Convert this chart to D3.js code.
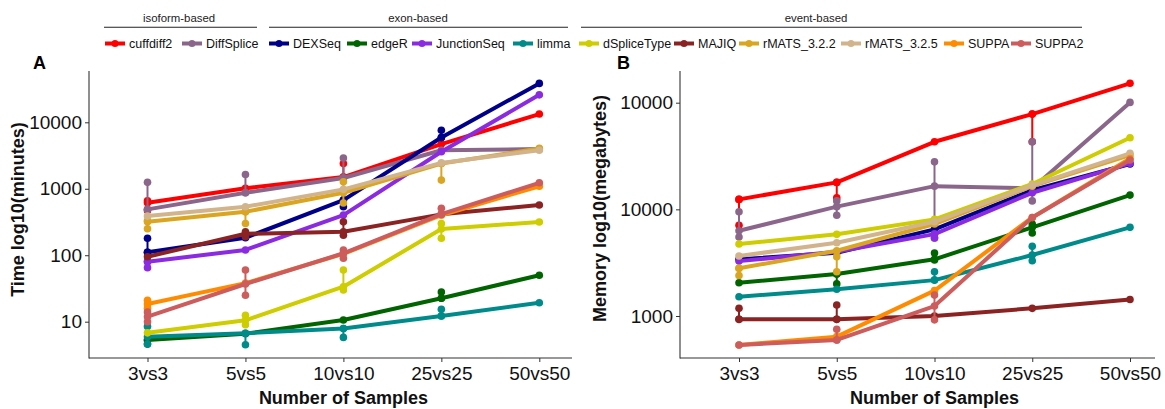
<!DOCTYPE html>
<html><head><meta charset="utf-8">
<script src="https://cdn.jsdelivr.net/npm/d3@7"></script>
<style>
body{margin:0;background:#fff}
svg text{font-family:"Liberation Sans",Arial,Helvetica,sans-serif}
</style>
</head><body>
<svg id="chart" width="1165" height="409"></svg>
<script>
// ---------------- data ----------------
const categories = ["3vs3","5vs5","10vs10","25vs25","50vs50"];
const methods = ["cuffdiff2","DiffSplice","DEXSeq","edgeR","JunctionSeq","limma","dSpliceType","MAJIQ","rMATS_3.2.2","rMATS_3.2.5","SUPPA","SUPPA2"];
const methodColors = ["#FF0000","#8B668B","#00008B","#006400","#8A2BE2","#008B8B","#CDCD00","#8B2323","#DAA520","#D2B48C","#FF8C00","#CD5C5C"];
const groupNames = ["isoform-based","exon-based","event-based"];
const groupSizes = [2,4,6];

const timeTicks = [10,100,1000,10000];
const timeTickLabels = ["10","100","1000","10000"];
const memTicks = [1000,10000,100000];
const memTickLabels = ["1000","10000","10000"];

// mean time (minutes), one row per method, one column per category
const timeMeans = [
  [615,1015,1500,4700,13300],
  [490,870,1450,3800,3950],
  [111,183,675,5900,38500],
  [5.3,6.6,10.6,22.5,50],
  [80,120,402,3600,25900],
  [5.95,6.7,7.9,12.2,19.3],
  [6.8,10.5,33.6,248,317],
  [95,210,225,412,570],
  [319,451,870,2400,4050],
  [388,537,980,2450,3800],
  [18.5,38,105,400,1090],
  [11.9,36.9,107,415,1230]
];
// replicate spread (method index, category index, low, high)
const timeSpread = [
  [0,0,470,660],[1,0,490,1250],[2,0,111,180],[8,0,250,330],[4,0,65,80],[10,0,16,21],[11,0,10,14],[5,0,4.6,8.5],[3,0,4.6,5.3],
  [1,1,870,1640],[8,1,300,451],[11,1,25,60],[5,1,4.5,6.7],[6,1,9,12.5],[7,1,190,225],
  [1,2,1450,2900],[0,2,1500,2400],[8,2,610,1270],[2,2,535,675],[7,2,200,318],[11,2,90,120],[6,2,30,60],[5,2,5.8,7.9],
  [2,3,5900,7600],[8,3,1350,2400],[11,3,415,510],[6,3,180,300],[3,3,22.5,28],[5,3,12.2,15.4]
];

// mean memory (megabytes)
const memMeans = [
  [12400,17900,43000,78200,152000],
  [6300,10600,16500,15700,100700],
  [3400,3920,6490,15100,26600],
  [2050,2480,3400,6780,13600],
  [3270,4000,5860,14300,27000],
  [1517,1780,2170,3730,6780],
  [4730,5830,8050,17300,46900],
  [930,930,1000,1180,1430],
  [2800,4090,7280,16500,32300],
  [3650,4870,7650,16800,33500],
  [535,640,1730,8400,30000],
  [535,596,1240,8400,29000]
];
const memSpread = [
  [0,0,7100,12400],[1,0,5500,9500],[7,0,930,1180],[8,0,2400,2800],
  [0,1,12800,17900],[1,1,8800,12000],[7,1,930,1270],[11,1,596,750],[8,1,2600,3600],[3,1,2000,2480],
  [1,2,5400,27900],[4,2,5400,5860],[3,2,3350,3900],[5,2,2170,2600],[11,2,920,1570],
  [0,3,43000,78200],[1,3,12000,43000],[3,3,6000,7300],[5,3,3300,4500]
];

// ---------------- layout ----------------
const svg = d3.select("#chart");
const font = '"Liberation Sans",Arial,Helvetica,sans-serif';

const panels = [
  {letter:"A", means:timeMeans, spread:timeSpread, ticks:timeTicks, labels:timeTickLabels,
   yTitle:"Time log10(minutes)", axisX:89, axisRight:572, xRange:[147.5,539.3],
   yDomain:[10,10000], yRange:[321.7,122.3], letterX:33, yTitleX:18},
  {letter:"B", means:memMeans, spread:memSpread, ticks:memTicks, labels:memTickLabels,
   yTitle:"Memory log10(megabytes)", axisX:680, axisRight:1155, xRange:[739,1130],
   yDomain:[1000,100000], yRange:[316,102.7], letterX:617, yTitleX:600}
];
const axisTop = 71, axisBottom = 358;

panels.forEach(p => {
  const g = svg.append("g");
  const x = d3.scalePoint().domain(categories).range(p.xRange);
  const y = d3.scaleLog().domain(p.yDomain).range(p.yRange);

  // axes
  const xa = g.append("g").attr("transform",`translate(0,${axisBottom})`)
    .call(d3.axisBottom(x).tickSize(4).tickPadding(5));
  const ya = g.append("g").attr("transform",`translate(${p.axisX},0)`)
    .call(d3.axisLeft(y).tickValues(p.ticks).tickFormat((d,i)=>p.labels[i]).tickSize(4).tickPadding(3));
  [xa,ya].forEach(a=>{
    a.select(".domain").remove();
    a.selectAll(".tick line").attr("stroke","#333").attr("stroke-width",1);
    a.selectAll(".tick text").attr("fill","#111").style("font-size","19px").style("font-family",font);
  });
  g.append("line").attr("x1",p.axisX).attr("x2",p.axisX).attr("y1",axisTop).attr("y2",axisBottom+0.5)
    .attr("stroke","#333").attr("stroke-width",1.1);
  g.append("line").attr("x1",p.axisX).attr("x2",p.axisRight).attr("y1",axisBottom).attr("y2",axisBottom)
    .attr("stroke","#333").attr("stroke-width",1.1);

  // titles
  const cx = (p.xRange[0]+p.xRange[1])/2;
  g.append("text").attr("x",cx).attr("y",404).attr("text-anchor","middle")
    .style("font-size","18px").style("font-weight","bold").attr("fill","#111").text("Number of Samples");
  g.append("text").attr("transform",`translate(${p.yTitleX+6},${(axisTop+axisBottom)/2+ (p.letter==="A"?-5:-6)}) rotate(-90)`)
    .attr("text-anchor","middle").style("font-size","18px").style("font-weight","bold").attr("fill","#111").text(p.yTitle);
  g.append("text").attr("x",p.letterX).attr("y",69).style("font-size","18px").style("font-weight","bold")
    .attr("fill","#000").text(p.letter);

  // series
  const line = d3.line().x((d,i)=>x(categories[i])).y(d=>y(d));
  methods.forEach((m,mi)=>{
    const sg = g.append("g");
    p.spread.filter(s=>s[0]===mi).forEach(s=>{
      const cxp = x(categories[s[1]]);
      sg.append("line").attr("x1",cxp).attr("x2",cxp).attr("y1",y(s[2])).attr("y2",y(s[3]))
        .attr("stroke",methodColors[mi]).attr("stroke-width",2);
      [s[2],s[3]].forEach(v=>sg.append("circle").attr("cx",cxp).attr("cy",y(v)).attr("r",3.8).attr("fill",methodColors[mi]));
    });
    sg.append("path").datum(p.means[mi]).attr("d",line).attr("fill","none")
      .attr("stroke",methodColors[mi]).attr("stroke-width",4).attr("stroke-linejoin","round");
    sg.selectAll("circle.m").data(p.means[mi]).join("circle").attr("class","m")
      .attr("cx",(d,i)=>x(categories[i])).attr("cy",d=>y(d)).attr("r",3.8).attr("fill",methodColors[mi]);
  });
});

// ---------------- legend ----------------
const leg = svg.append("g");
const groupLines = [[104,257],[269,568],[581,1082]];
groupNames.forEach((gname,gi)=>{
  const [a,b] = groupLines[gi];
  leg.append("line").attr("x1",a).attr("x2",b).attr("y1",27.3).attr("y2",27.3).attr("stroke","#222").attr("stroke-width",1.1);
});
const groupLabelX = [179,418,816];
groupNames.forEach((gname,gi)=>{
  leg.append("text").attr("x",groupLabelX[gi]).attr("y",22).attr("text-anchor","middle")
    .style("font-size","11.4px").attr("fill","#222").text(gname);
});
const legendKeyX = [105,182,269,347,412,513,579,674,739,841,944,1011];
methods.forEach((m,i)=>{
  const kx = legendKeyX[i], ky = 43.5;
  leg.append("line").attr("x1",kx).attr("x2",kx+20).attr("y1",ky).attr("y2",ky)
    .attr("stroke",methodColors[i]).attr("stroke-width",4);
  leg.append("circle").attr("cx",kx+10).attr("cy",ky).attr("r",3.5).attr("fill",methodColors[i]);
  leg.append("text").attr("x",kx+24).attr("y",ky+4.5).style("font-size","12.5px").attr("fill","#111").text(m);
});
</script>
</body></html>
